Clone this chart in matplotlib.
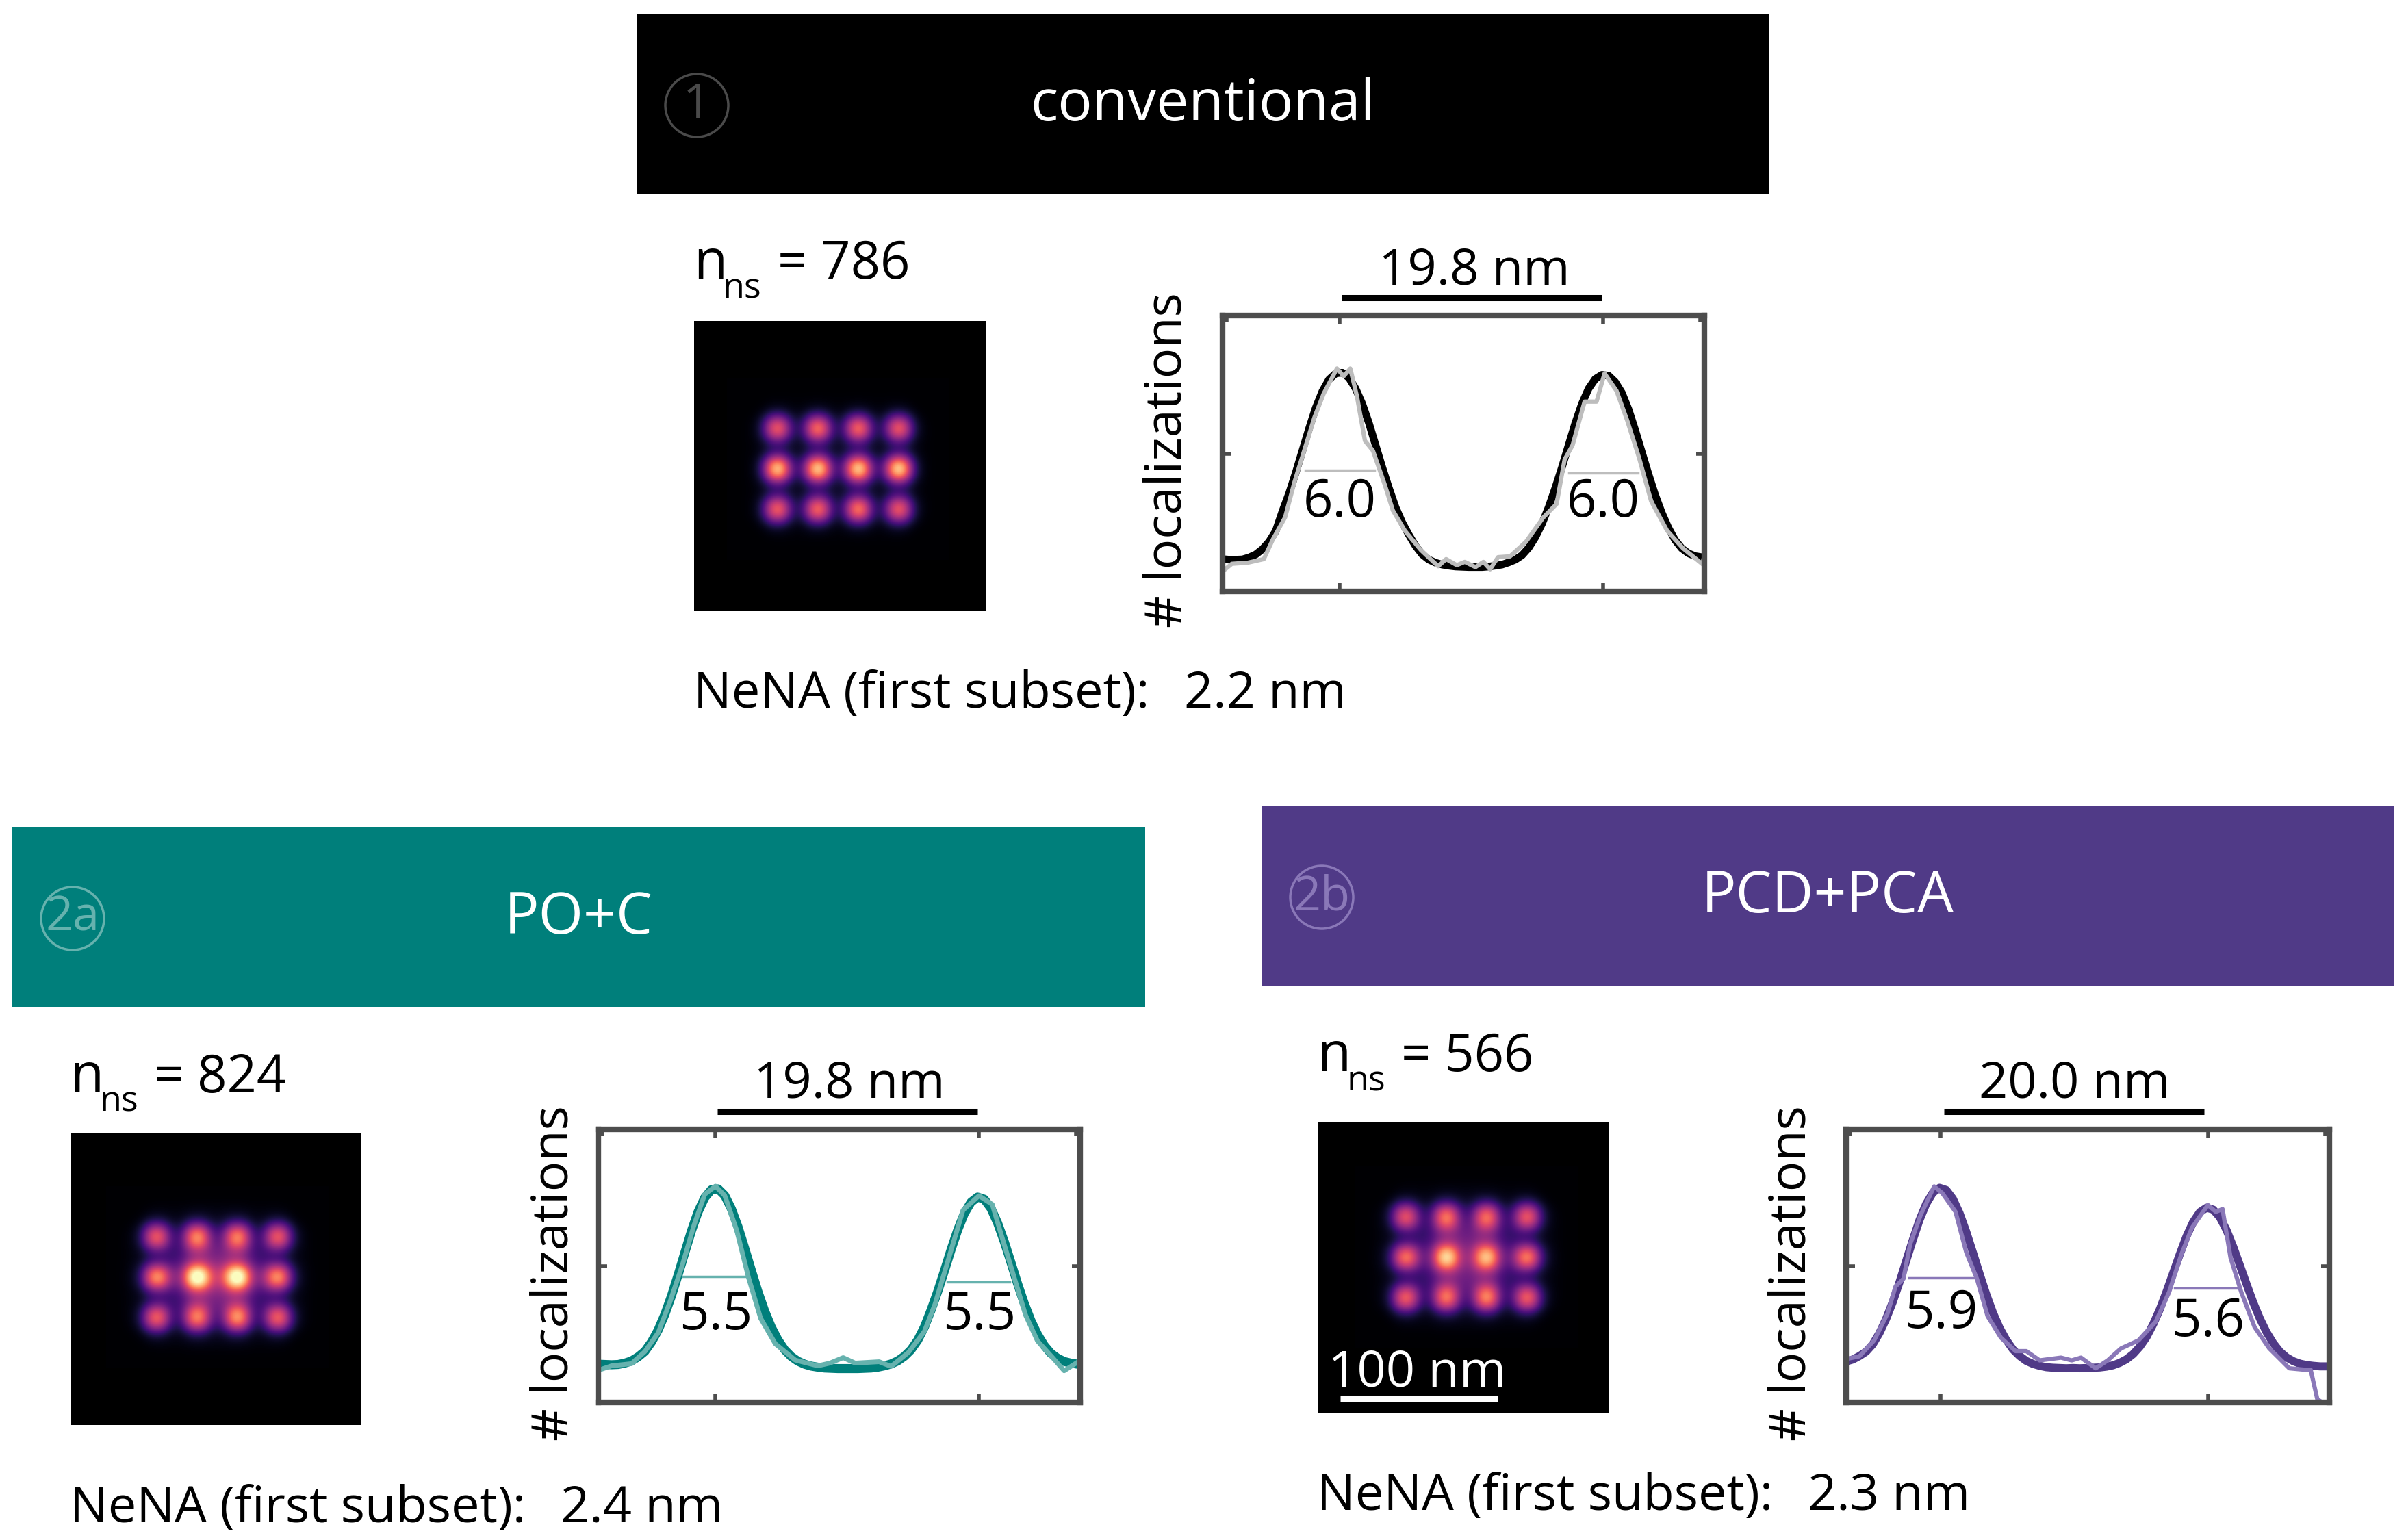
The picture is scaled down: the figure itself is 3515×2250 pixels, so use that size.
import numpy as np
import matplotlib
matplotlib.use('Agg')
import matplotlib.pyplot as plt
from matplotlib.patches import Rectangle, Circle

plt.rcParams['font.family'] = ['Open Sans', 'DejaVu Sans']

W = 3515
H = 2250

# x grid of the fitted curves, nm along the line profile
fit_x = np.arange(0, 36.5, 0.5)

fit1 = [11.7, 11.5, 11.5, 11.6, 12.3, 13.4, 15.3, 18.0, 21.9, 29.0, 35.5, 43.0, 51.0, 59.0, 66.5, 72.5, 76.8, 79.0, 79.3,
        77.4, 73.5, 68.0, 61.0, 53.0, 45.0, 37.5, 30.5, 25.0, 20.5, 16.5, 13.4, 11.5, 10.4, 9.7, 9.3, 9.0, 8.9, 8.8,
        8.8, 8.8, 9.0, 9.3, 9.7, 10.5, 11.5, 13.1, 15.8, 19.6, 24.5, 30.5, 37.5, 45.0, 53.0, 61.0, 68.0, 73.5, 77.0,
        78.5, 78.2, 75.9, 72.0, 66.0, 58.5, 50.5, 42.5, 35.0, 28.5, 23.0, 18.6, 15.6, 13.8, 12.8, 12.4]
raw1_x = [0.15, 0.7, 1.9, 3.1, 3.8, 4.7, 5.4, 6.2, 6.9, 7.6, 8.6, 9.1, 9.6, 10.1, 10.7, 11.3, 12.2, 12.8, 13.7, 14.9,
          16.2, 16.8, 17.6, 18.2, 19.0, 19.6, 20.1, 20.7, 21.6, 22.8, 24.1, 25.1, 25.7, 26.3, 27.2, 28.1, 28.7, 29.6,
          30.4, 31.3, 32.2, 33.4, 34.6, 36.2]
raw1_y = [7.8, 10, 10.4, 11.7, 19, 26.8, 39.5, 52, 63, 71.7, 80.8, 78, 80.8, 70.7, 54.6, 51, 38.5, 29.3, 22, 15,
          9.1, 11.7, 9.5, 10.7, 8.8, 10.7, 8, 12.4, 12.7, 18, 26.8, 31.7, 47.8, 53, 68.8, 68.8, 79, 72.7,
          62, 48.3, 32.7, 22, 15.6, 9.3]

fit2 = [14.0, 13.9, 13.8, 13.9, 14.4, 15.2, 16.7, 18.7, 22.1, 26.5, 32.2, 39.0, 46.7, 54.8, 62.8, 69.8, 75.0, 77.9, 78.2,
        75.8, 70.9, 64.3, 56.5, 48.4, 40.5, 33.5, 27.6, 22.9, 19.3, 16.8, 15.1, 14.0, 13.3, 12.9, 12.6, 12.5, 12.4, 12.4,
        12.4, 12.4, 12.5, 12.6, 12.9, 13.4, 14.1, 15.2, 16.9, 19.3, 22.8, 27.6, 33.8, 40.6, 48.1, 55.9, 63.1, 69.2, 73.3,
        75.2, 74.4, 71.1, 65.7, 58.9, 51.3, 43.5, 36.3, 30.0, 24.9, 20.9, 18.0, 16.2, 15.0, 14.4, 14.0]
raw2_x = [0.15, 1, 2.5, 3.5, 4.5, 5.4, 6.3, 7.2, 8, 8.8, 9.5, 10.4, 11.3, 12.2, 13.3, 14.8, 16.5, 17.4, 18.4, 19.3,
          21.1, 22, 23.3, 24.5, 25.3, 26.4, 27.4, 28.6, 29.6, 30.3, 31.2, 32.1, 33, 34.1, 35, 35.9]
raw2_y = [12, 13.4, 14.2, 18.6, 25.5, 37, 50, 65, 76.2, 79.2, 75.8, 63, 45.5, 30.8, 21.5, 15.5, 13.4, 14.4, 16.4, 14.4,
          14.9, 13.2, 18.3, 26, 36, 54, 70.4, 75.7, 72.5, 61, 46.5, 32, 22.5, 16.6, 11.6, 14.4]

fit3 = [15.0, 15.7, 17.0, 18.6, 21.3, 25.4, 30.6, 36.8, 44.0, 51.8, 59.5, 66.8, 72.7, 76.8, 78.6, 77.8, 74.6, 69.3, 62.5,
        54.9, 47.1, 39.6, 32.9, 27.3, 22.9, 19.4, 17.0, 15.2, 14.1, 13.4, 12.9, 12.7, 12.6, 12.5, 12.6, 12.5, 12.6, 12.7,
        12.8, 13.1, 13.6, 14.5, 15.8, 17.7, 20.4, 23.9, 28.6, 34.1, 40.5, 47.4, 54.3, 60.8, 66.1, 69.7, 71.3, 70.6, 67.8,
        63.1, 57.0, 50.2, 43.3, 36.6, 30.7, 25.7, 21.7, 18.6, 16.5, 15.1, 14.2, 13.7, 13.4, 13.2, 13.2]
raw3_x = [0, 1, 2.1, 3.1, 3.7, 4.3, 4.8, 5.6, 6.6, 7.2, 8.2, 9, 9.8, 10.6, 11.6, 12.7, 13.5, 14.5, 16.1, 16.9, 17.6,
          18.7, 19.6, 20.6, 21.9, 23.2, 24.2, 25.1, 25.9, 27.1, 27.7, 28.2, 28.8, 29.6, 30.6, 31.7, 33.2, 34.3, 34.8,
          35.3, 35.6]
raw3_y = [15.9, 16.9, 22.7, 32.5, 42.4, 45.3, 58, 68.8, 79.1, 76.7, 69.8, 55, 45.3, 31.6, 23.7, 18.8, 18.8, 15.4, 16.4,
          15.4, 16.4, 12.5, 15.4, 19.8, 22.7, 29.6, 40.4, 54, 63.9, 72.3, 69.8, 70.8, 53, 40.4, 27.6, 19.8, 12.5, 12, 12,
          1.2, 0.2]

# super-resolved image intensities, one cell per half grid spacing
img1 = [[0, 0, 0, 0, 0, 0, 0, 0, 0, 0, 0],
        [0, 0, .01, .01, .01, .01, .01, .01, .01, 0, 0],
        [0, .01, .72, .01, .78, .01, .76, .01, .72, .01, 0],
        [0, .01, .02, .02, .03, .03, .03, .02, .02, .01, 0],
        [0, .01, .98, .02, 1.0, .03, 1.0, .03, 1.02, .01, 0],
        [0, .01, .02, .02, .03, .03, .03, .02, .02, .01, 0],
        [0, .01, .74, .01, .76, .01, .80, .01, .72, .01, 0],
        [0, 0, .01, .01, .01, .01, .01, .01, .01, 0, 0],
        [0, 0, 0, 0, 0, 0, 0, 0, 0, 0, 0]]
img2 = [[0, 0, 0, 0, 0, 0, 0, 0, 0, 0, 0],
        [0, 0, .02, .02, .03, .03, .03, .02, .02, 0, 0],
        [0, .02, .72, .04, .82, .08, .80, .04, .72, .02, 0],
        [0, .02, .05, .14, .24, .26, .24, .14, .05, .02, 0],
        [0, .03, .84, .18, 1.12, .30, 1.12, .18, .84, .03, 0],
        [0, .02, .05, .14, .24, .26, .24, .14, .05, .02, 0],
        [0, .02, .74, .04, .80, .08, .85, .04, .74, .02, 0],
        [0, 0, .02, .02, .03, .03, .03, .02, .02, 0, 0],
        [0, 0, 0, 0, 0, 0, 0, 0, 0, 0, 0]]
img3 = [[0, 0, 0, 0, 0, 0, 0, 0, 0, 0, 0],
        [0, 0, .02, .02, .03, .03, .03, .02, .02, 0, 0],
        [0, .02, .70, .04, .78, .07, .76, .04, .72, .02, 0],
        [0, .02, .04, .13, .22, .24, .22, .13, .04, .02, 0],
        [0, .03, .78, .12, .98, .20, .92, .12, .80, .03, 0],
        [0, .02, .04, .13, .22, .24, .22, .13, .04, .02, 0],
        [0, .02, .74, .04, .78, .07, .82, .04, .74, .02, 0],
        [0, 0, .02, .02, .03, .03, .03, .02, .02, 0, 0],
        [0, 0, 0, 0, 0, 0, 0, 0, 0, 0, 0]]

titles = ['conventional', 'PO+C', 'PCD+PCA']
badges = ['1', '2a', '2b']
counts = ['786', '824', '566']
nena = ['2.2 nm', '2.4 nm', '2.3 nm']
spacing = ['19.8 nm', '19.8 nm', '20.0 nm']
fwhm = [['6.0', '6.0'], ['5.5', '5.5'], ['5.9', '5.6']]

dark = ['black', '#007f7b', '#503a87']
light = ['#bdbdbd', '#66b2ae', '#8a78b8']
badge_col = ['#4a4a4a', '#66b2ae', '#8a78b8']
fit_lw = [8, 9.5, 8.5]
raw_lw = [4.5, 5, 4.5]

peaks = [[8.8, 28.6], [8.8, 28.6], [7.1, 27.1]]
half_lines = [[(6.2, 11.4, 43.9), (26.0, 31.2, 42.9)],
              [(6.4, 11.1, 46.0), (26.2, 30.9, 44.0)],
              [(4.7, 9.7, 45.6), (24.6, 29.5, 41.9)]]
label_y = [[32.0, 32.0], [31.8, 31.8], [32.3, 29.3]]

# pixel layout of the three groups
banner = [(930, 20, 1655, 263), (18, 1208, 1655, 263), (1843, 1177, 1654, 263)]
image_box = [(1014, 469, 426, 423), (103, 1656, 425, 426), (1925, 1639, 426, 425)]
grid_mid = [(1224.5, 685), (317.5, 1866), (2142.5, 1837)]
frame_box = [(1786, 461, 704, 403), (874, 1650, 704, 399), (2697, 1650, 706, 399)]
n_shift = [4, 6, -8]
span_shift = [4, 3, 0]
ylab_gap = [79, 63, 79]
ylab_low = [53, 56, 56]

fits = [fit1, fit2, fit3]
raws = [(raw1_x, raw1_y), (raw2_x, raw2_y), (raw3_x, raw3_y)]
images = [img1, img2, img3]


def px_axes(x, y, w, h):
    return fig.add_axes([x / W, 1 - (y + h) / H, w / W, h / H])


def fs(px):
    return px * 0.72


fig = plt.figure(figsize=(W / 100, H / 100), dpi=100, facecolor='white')
page = fig.add_axes([0, 0, 1, 1], zorder=5)
page.set_xlim(0, W)
page.set_ylim(H, 0)
page.axis('off')

nm_px = 2.3  # image scale, 100 nm bar is 230 px
step = 59 / 2 / nm_px

for i in range(3):
    bx, by, bw, bh = banner[i]
    page.add_patch(Rectangle((bx, by), bw, bh, fc=dark[i], ec='none'))
    page.text(bx + bw / 2, by + bh * 0.51, titles[i], color='white', fontsize=fs(84), ha='center', va='center')
    cx = bx + 88
    cy = by + 134
    page.add_patch(Circle((cx, cy), 46, fc='none', ec=badge_col[i], lw=2.5))
    page.text(cx, cy, badges[i], color=badge_col[i], fontsize=fs(70), ha='center', va='center')

    ix, iy, iw, ih = image_box[i]
    ax = px_axes(ix, iy, iw, ih)
    ax.set_facecolor('black')
    mx = (grid_mid[i][0] - ix) / nm_px
    my = (grid_mid[i][1] - iy) / nm_px
    # the gaussian filter lowers a lone cell to about 0.64 of its value
    ax.imshow(np.array(images[i]), cmap='magma', vmin=0, vmax=0.74, interpolation='gaussian',
              extent=[mx - 5.5 * step, mx + 5.5 * step, my + 4.5 * step, my - 4.5 * step])
    ax.set_xlim(0, iw / nm_px)
    ax.set_ylim(ih / nm_px, 0)
    ax.set_xticks([])
    ax.set_yticks([])
    for s in ax.spines.values():
        s.set_visible(False)

    # n_ns label and NeNA line
    ny = iy - 66 + n_shift[i]
    page.text(ix - 1, ny, 'n', fontsize=fs(80), ha='left', va='baseline')
    page.text(ix + 42, ny + 28, 'ns', fontsize=fs(52), ha='left', va='baseline')
    page.text(ix + 122, ny, '= ' + counts[i], fontsize=fs(76), ha='left', va='baseline')
    page.text(ix - 1, iy + ih + 142, 'NeNA (first subset):', fontsize=fs(74), ha='left', va='baseline')
    page.text(ix + 716, iy + ih + 142, nena[i], fontsize=fs(74), ha='left', va='baseline')

    fx, fy, fw, fh = frame_box[i]
    ax = px_axes(fx, fy, fw, fh)
    ax.plot(fit_x, fits[i], color=dark[i], lw=fit_lw[i], solid_capstyle='butt')
    ax.plot(raws[i][0], raws[i][1], color=light[i], lw=raw_lw[i], solid_joinstyle='round')
    for (x0, x1, yy), pk, ly, lab in zip(half_lines[i], peaks[i], label_y[i], fwhm[i]):
        ax.plot([x0, x1], [yy, yy], color=light[i], lw=2.5)
        ax.text(pk, ly, lab, fontsize=fs(76), ha='center', va='center')
    ax.set_xlim(0, 36.2)
    ax.set_ylim(0, 100)
    ax.set_xticks(peaks[i])
    ax.set_xticks([0.3, 35.9], minor=True)
    ax.set_yticks([50])
    ax.set_xticklabels([])
    ax.set_yticklabels([])
    ax.tick_params(direction='in', top=True, right=True, length=9, width=4, color='#4d4d4d')
    ax.tick_params(which='minor', direction='in', top=True, bottom=False, length=7, width=4, color='#4d4d4d')
    for s in ax.spines.values():
        s.set_color('#4d4d4d')
        s.set_linewidth(6)

    # spacing bar above the frame
    mid = fx + (peaks[i][0] + peaks[i][1]) / 2 / 36.2 * fw
    page.plot([mid - 190, mid + 190], [fy - 26, fy - 26], color='black', lw=6.5, solid_capstyle='butt')
    page.text(mid + span_shift[i], fy - 46, spacing[i], fontsize=fs(74), ha='center', va='baseline')
    page.text(fx - ylab_gap[i], fy + fh + ylab_low[i], '# localizations', fontsize=fs(74), rotation=90,
              ha='center', va='bottom')

# scale bar of the last image
ix, iy, iw, ih = image_box[2]
page.plot([ix + 33, ix + 263], [iy + 404, iy + 404], color='white', lw=6.5, solid_capstyle='butt', zorder=6)
page.text(ix + 145, iy + 386, '100 nm', color='white', fontsize=fs(74), ha='center', va='baseline')

fig.savefig('out.png', dpi=100)
